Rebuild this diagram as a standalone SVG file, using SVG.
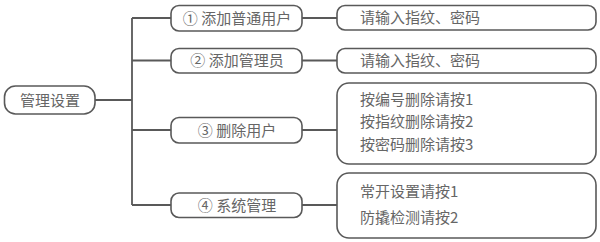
<svg xmlns="http://www.w3.org/2000/svg" width="600" height="242" viewBox="0 0 600 242">
<style>
.box{fill:#fff;stroke:#595959;stroke-width:1.6}
.ln{fill:none;stroke:#595959;stroke-width:1.8}
text{font-family:"Noto Sans CJK SC","Noto Sans",sans-serif;font-size:15px;fill:#666}
.c{text-anchor:middle}
</style>
<rect width="600" height="242" fill="#fff"/>
<g id="connectors">
<path class="ln" d="M95 100H132M132 18V205M132 18H171M132 60.5H171M132 130H171M132 205H171"/>
<path class="ln" d="M302 18H337M302 60.5H337M302 130H337M302 205H337"/>
</g>
<g id="root"><rect class="box" x="4.5" y="86" width="90.5" height="28" rx="11"/><text class="c" x="50" y="105.5">管理设置</text></g>
<g id="n1"><rect class="box" x="171" y="5.5" width="131" height="25.5" rx="8"/><text class="c" x="237" y="23.5">① 添加普通用户</text></g>
<g id="n2"><rect class="box" x="171" y="48.5" width="131" height="24.5" rx="8"/><text class="c" x="237" y="66">② 添加管理员</text></g>
<g id="n3"><rect class="box" x="171" y="117.5" width="131" height="25.5" rx="8"/><text class="c" x="237" y="135.5">③ 删除用户</text></g>
<g id="n4"><rect class="box" x="171" y="193" width="131" height="24.5" rx="8"/><text class="c" x="237" y="210.5">④ 系统管理</text></g>
<g id="r1"><rect class="box" x="337" y="5.5" width="259" height="24.5" rx="8"/><text x="360" y="23">请输入指纹、密码</text></g>
<g id="r2"><rect class="box" x="337" y="48.5" width="259" height="24.5" rx="8"/><text x="360" y="66">请输入指纹、密码</text></g>
<g id="r3"><rect class="box" x="337" y="83" width="259" height="81" rx="12"/><text x="360" y="104.5">按编号删除请按1</text><text x="360" y="126.5">按指纹删除请按2</text><text x="360" y="150">按密码删除请按3</text></g>
<g id="r4"><rect class="box" x="337" y="173" width="259" height="65" rx="12"/><text x="360" y="197">常开设置请按1</text><text x="360" y="223">防撬检测请按2</text></g>
</svg>
